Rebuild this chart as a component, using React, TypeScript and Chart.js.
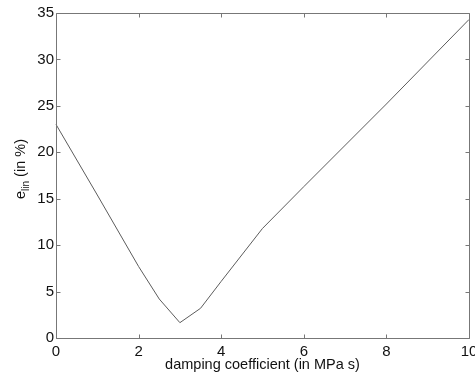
import React, { useEffect, useRef } from "react";
import { Chart, registerables } from "chart.js";

Chart.register(...registerables);

const xValues = [0, 1, 2, 2.5, 3, 3.5, 4, 5, 6, 8, 10];
const yValues = [23, 15.4, 7.7, 4.2, 1.65, 3.2, 6.1, 11.8, 16.3, 25.2, 34.3];
const xTicks = [0, 2, 4, 6, 8, 10];
const yTicks = [0, 5, 10, 15, 20, 25, 30, 35];
const xTitle = "damping coefficient (in MPa s)";
const yTitleMain = "e";
const yTitleSub = "lin";
const yTitleRest = " (in %)";

const FONT = "'Liberation Sans', Arial, sans-serif";

const boxPlugin = {
  id: "matlabBox",
  afterDraw(chart: any) {
    const { ctx, chartArea, scales } = chart;
    const { left, right, top, bottom } = chartArea;
    ctx.save();
    ctx.strokeStyle = "#777";
    ctx.lineWidth = 1;
    const l = Math.round(left) + 0.5;
    const r = Math.round(right) + 0.5;
    const t = Math.round(top) + 0.5;
    const b = Math.round(bottom) + 0.5;
    ctx.beginPath();
    ctx.rect(l, t, r - l, b - t);
    ctx.stroke();
    const tl = 4;
    ctx.beginPath();
    xTicks.forEach((v) => {
      const px = Math.round(scales.x.getPixelForValue(v)) + 0.5;
      ctx.moveTo(px, b);
      ctx.lineTo(px, b - tl);
      ctx.moveTo(px, t);
      ctx.lineTo(px, t + tl);
    });
    yTicks.forEach((v) => {
      const py = Math.round(scales.y.getPixelForValue(v)) + 0.5;
      ctx.moveTo(l, py);
      ctx.lineTo(l + tl, py);
      ctx.moveTo(r, py);
      ctx.lineTo(r - tl, py);
    });
    ctx.stroke();

    // x title
    ctx.fillStyle = "#111";
    ctx.font = `14.5px ${FONT}`;
    ctx.textAlign = "center";
    ctx.textBaseline = "alphabetic";
    ctx.fillText(xTitle, (left + right) / 2, 369);

    // y title with subscript
    ctx.translate(25, 169);
    ctx.rotate(-Math.PI / 2);
    ctx.textAlign = "left";
    ctx.font = `14.5px ${FONT}`;
    const wMain = ctx.measureText(yTitleMain).width;
    const wRest = ctx.measureText(yTitleRest).width;
    ctx.font = `10px ${FONT}`;
    const wSub = ctx.measureText(yTitleSub).width;
    const total = wMain + wSub + wRest;
    let x0 = -total / 2;
    ctx.font = `14.5px ${FONT}`;
    ctx.fillText(yTitleMain, x0, 0);
    x0 += wMain;
    ctx.font = `10px ${FONT}`;
    ctx.fillText(yTitleSub, x0, 4);
    x0 += wSub;
    ctx.font = `14.5px ${FONT}`;
    ctx.fillText(yTitleRest, x0, 0);
    ctx.restore();
  },
};

export default function App() {
  const ref = useRef<HTMLCanvasElement | null>(null);
  useEffect(() => {
    if (!ref.current) return;
    const chart = new Chart(ref.current, {
      type: "line",
      data: {
        datasets: [
          {
            data: xValues.map((x, i) => ({ x, y: yValues[i] })),
            borderColor: "#5c5c5c",
            borderWidth: 1,
            pointRadius: 0,
            tension: 0,
            fill: false,
            clip: false,
          },
        ],
      },
      options: {
        animation: false,
        responsive: false,
        layout: { padding: { left: 0, right: 6, top: 13, bottom: 0 } },
        plugins: { legend: { display: false }, tooltip: { enabled: false } },
        scales: {
          x: {
            type: "linear",
            min: 0,
            max: 10,
            afterBuildTicks: (s: any) => {
              s.ticks = xTicks.map((v) => ({ value: v }));
            },
            afterFit: (s: any) => {
              s.height = 40;
              s.paddingLeft = 0;
              s.paddingRight = 0;
            },
            grid: { display: false, drawTicks: false },
            border: { display: false },
            ticks: {
              color: "#111",
              font: { family: FONT, size: 15 },
              padding: 5,
              maxRotation: 0,
              autoSkip: false,
            },
          },
          y: {
            type: "linear",
            min: 0,
            max: 35,
            afterBuildTicks: (s: any) => {
              s.ticks = yTicks.map((v) => ({ value: v }));
            },
            afterFit: (s: any) => {
              s.width = 56;
              s.paddingTop = 0;
              s.paddingBottom = 0;
            },
            grid: { display: false, drawTicks: false },
            border: { display: false },
            ticks: {
              color: "#111",
              font: { family: FONT, size: 15 },
              padding: 2,
              autoSkip: false,
            },
          },
        },
      },
      plugins: [boxPlugin],
    } as any);
    return () => chart.destroy();
  }, []);
  return (
    <div style={{ position: "absolute", left: 0, top: 0, width: 475, height: 378, background: "#fff" }}>
      <canvas ref={ref} width={475} height={378} style={{ display: "block" }} />
    </div>
  );
}
